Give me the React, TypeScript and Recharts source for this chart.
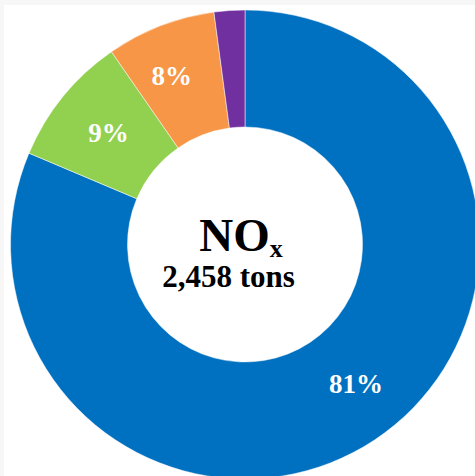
import { PieChart, Pie, Cell } from "recharts";

// NOx emissions by source (tons)
const sources = ["Source A", "Source B", "Source C", "Source D"];
const tons = [2000, 221, 185, 52];
const COLORS = ["#0070c0", "#92d050", "#f79646", "#7030a0"];

// small nudges for where the percent labels sit (degrees, px from ring middle)
const LABEL_ANGLE_SHIFT = [5, 0, 2.3, 0];
const LABEL_RADIUS_SHIFT = [2, 0, 8, 0];

const title = "NO";
const titleSub = "x";
const totalText = "2,458 tons";

const FONT = '"Liberation Serif", "DejaVu Serif", serif';
const RADIAN = Math.PI / 180;

const CX = 245;
const CY = 244.5;

const renderLabel = (props: any) => {
  const { cx, cy, midAngle, innerRadius, outerRadius, percent, index } = props;
  if (percent < 0.05) return null;
  const r = (innerRadius + outerRadius) / 2 + LABEL_RADIUS_SHIFT[index];
  const a = midAngle + LABEL_ANGLE_SHIFT[index];
  const x = cx + r * Math.cos(-a * RADIAN);
  const y = cy + r * Math.sin(-a * RADIAN);
  return (
    <text
      x={x}
      y={y}
      fill="#ffffff"
      textAnchor="middle"
      dominantBaseline="central"
      style={{ fontFamily: FONT, fontWeight: "bold", fontSize: 27 }}
    >
      {Math.round(percent * 100)}%
    </text>
  );
};

export default function App() {
  const data = sources.map((name, i) => ({ name, value: tons[i] }));

  return (
    <div
      style={{
        position: "relative",
        width: 475,
        height: 476,
        background: "#f7f7f7",
        overflow: "hidden",
      }}
    >
      <style>{`body { margin: 0; }`}</style>
      <div
        style={{
          position: "absolute",
          left: 4,
          top: 5,
          right: 0,
          bottom: 0,
          background: "#ffffff",
        }}
      />
      <div style={{ position: "absolute", left: 0, top: 0 }}>
        <PieChart
          width={475}
          height={476}
          margin={{ top: 0, right: 0, bottom: 0, left: 0 }}
        >
          <Pie
            data={data}
            dataKey="value"
            nameKey="name"
            cx={CX}
            cy={CY}
            innerRadius={117.5}
            outerRadius={234.5}
            startAngle={90}
            endAngle={-270}
            stroke="#ffffff"
            strokeWidth={0.5}
            labelLine={false}
            label={renderLabel}
            isAnimationActive={false}
          >
            {data.map((entry, index) => (
              <Cell key={entry.name} fill={COLORS[index]} />
            ))}
          </Pie>
        </PieChart>
      </div>
      <svg
        width={475}
        height={476}
        style={{ position: "absolute", left: 0, top: 0 }}
      >
        <g style={{ fontFamily: FONT, fontWeight: "bold" }} fill="#000000">
          <text x={CX - 4} y={CY + 6} textAnchor="middle" fontSize={47}>
            {title}
            <tspan fontSize={26} dy={6}>
              {titleSub}
            </tspan>
          </text>
          <text x={CX - 16.5} y={CY + 42} textAnchor="middle" fontSize={31}>
            {totalText}
          </text>
        </g>
      </svg>
    </div>
  );
}
